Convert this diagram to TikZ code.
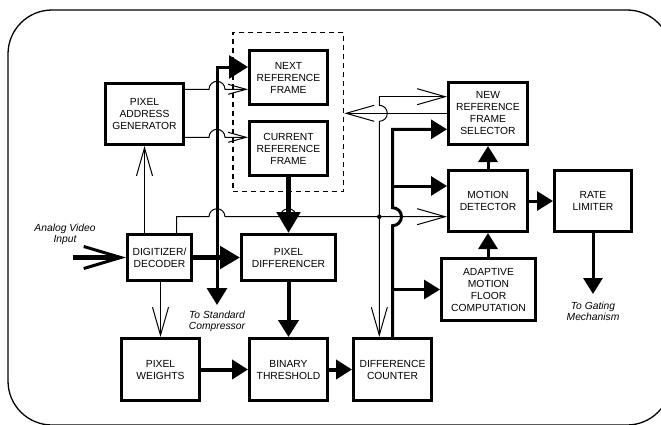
\documentclass[tikz,border=0pt]{standalone}
\usepackage{fontspec}
\setmainfont{Liberation Sans}
\usetikzlibrary{arrows.meta}
\begin{document}
\begin{tikzpicture}[x=1pt,y=-1pt,
  box/.style={draw, line width=3pt, align=center, inner sep=0pt, font=\fontsize{10.3}{12}\selectfont},
  thinl/.style={line width=1pt},
  opena/.style={-{Straight Barb[length=28pt,width=16pt]}},
  shorta/.style={-{Straight Barb[length=18pt,width=10pt]}},
  thk/.style={line width=3pt},
  fa/.style={-{Triangle[length=16pt,width=19pt]}},
  lab/.style={font=\fontsize{10.3}{11}\selectfont\itshape, align=center, inner sep=0pt}]
\useasboundingbox (0,0) rectangle (661,424);
% outer frame
\draw[line width=1.3pt, rounded corners=44pt] (8,10) rectangle (671,425);
% dashed group
\node[draw, dash pattern=on 5pt off 4pt, line width=1.5pt, minimum width=110.8pt, minimum height=159pt, inner sep=0pt] (grp) at (288.2,112) {};
% boxes
\node[box, minimum width=78pt, minimum height=61pt] (pag) at (144.5,114) {PIXEL\\ADDRESS\\GENERATOR};
\node[box, minimum width=78pt, minimum height=54pt] (next) at (288.5,77.5) {NEXT\\REFERENCE\\FRAME};
\node[box, minimum width=78pt, minimum height=54pt] (cur) at (288.5,148.5) {CURRENT\\REFERENCE\\FRAME};
\node[box, minimum width=79pt, minimum height=62pt] (nrfs) at (488,113.5) {NEW\\REFERENCE\\FRAME\\SELECTOR};
\node[box, minimum width=79pt, minimum height=61pt] (md) at (488,201) {MOTION\\DETECTOR};
\node[box, minimum width=77pt, minimum height=61pt] (rl) at (593,201) {RATE\\LIMITER};
\node[box, minimum width=94pt, minimum height=62pt] (amfc) at (488.5,289.5) {ADAPTIVE\\MOTION\\FLOOR\\COMPUTATION};
\node[box, minimum width=64pt, minimum height=46pt] (dig) at (159.5,257.5) {DIGITIZER/\\DECODER};
\node[box, minimum width=94pt, minimum height=46pt] (pd) at (288.5,257.5) {PIXEL\\DIFFERENCER};
\node[box, minimum width=78pt, minimum height=62pt] (pw) at (160.5,369.5) {PIXEL\\WEIGHTS};
\node[box, minimum width=78pt, minimum height=62pt] (bt) at (288.5,369.5) {BINARY\\THRESHOLD};
\node[box, minimum width=78pt, minimum height=62pt] (dc) at (392.5,369.5) {DIFFERENCE\\COUNTER};
% labels
\node[lab] (lin) at (65,234.7) {Analog Video\\Input};
\node[lab] (lstd) at (217,321.2) {To Standard\\Compressor};
\node[lab] (lgate) at (593,311) {To Gating\\Mechanism};
% helper coordinates
\coordinate (yA) at (0,89.3);
\coordinate (yB) at (0,137.3);
\coordinate (yBus) at (0,67);
\coordinate (yH) at (0,216.7);
\coordinate (yR) at (0,113.3);
\coordinate (yT1) at (0,129.3);
\coordinate (xD) at (176.7,0);
\coordinate (tV) at (379.3,96.7);
\coordinate (std) at (217,305);
\coordinate (gate) at (593,294);
\coordinate (ain) at (73,257.5);
\coordinate (bMD) at (392.5,186);
\coordinate (bAM) at (392.5,289.5);
% thin connectors
\draw[thinl, opena] (pag |- dig.north) -- (pag.south);
\draw[thinl, opena] (pw |- dig.south) -- (pw.north);
\draw[thinl, shorta] (pag.east |- yA) -- (209,89.3) arc[start angle=180,end angle=0,radius=8pt] -- (next.west |- yA);
\draw[thinl, shorta] (pag.east |- yB) -- (209,137.3) arc[start angle=180,end angle=0,radius=8pt] -- (cur.west |- yB);
\draw[thinl, opena] (xD |- dig.north) -- (176.7,216.7) -- (209,216.7) arc[start angle=180,end angle=0,radius=8pt] -- (280.3,216.7) arc[start angle=180,end angle=0,radius=8pt] -- (md.west |- yH);
\node[circle, fill, inner sep=0pt, minimum size=4.6pt] (j1) at (379.3,216.7) {};
\draw[thinl, opena] (tV) -- (nrfs.west |- tV);
\draw[thinl, opena] (tV) -- (379.3,105.3) arc[start angle=90,end angle=-90,radius=8pt] -- (dc.north -| tV);
\draw[thinl, opena] (nrfs.west |- yR) -- (grp.east |- yR);
% thick connectors
\draw[line width=5pt, -{Straight Barb[length=37pt,width=22pt,line width=3pt]}] (ain) -- (dig.west);
\draw[line width=5pt, -{Triangle[length=20pt,width=22pt]}] (dig.east) -- (pd.west);
\draw[thk, {Triangle[length=17pt,width=20pt]}-{Triangle[length=19pt,width=23pt]}] (std) |- (next.west |- yBus);
\draw[line width=5pt, -{Triangle[length=21pt,width=23pt]}] (cur.south) -- (pd.north);
\draw[line width=4pt, -{Triangle[length=17pt,width=20pt]}] (pd.south) -- (bt.north);
\draw[line width=4pt, fa] (pw.east) -- (bt.west);
\draw[line width=4pt, fa] (bt.east) -- (dc.west);
\draw[thk, fa] (dc.north) -- (392.5,225.7) arc[start angle=-90,end angle=90,radius=9pt] -- (392.5,129.3) -- (nrfs.west |- yT1);
\draw[thk, fa] (bMD) -- (md.west |- bMD);
\draw[thk, fa] (bAM) -- (amfc.west);
\draw[thk, fa] (md |- amfc.north) -- (md.south);
\draw[thk, fa] (md.north) -- (nrfs.south);
\draw[thk, fa] (md.east) -- (rl.west);
\draw[thk, fa] (rl.south) -- (gate);
\end{tikzpicture}
\end{document}
